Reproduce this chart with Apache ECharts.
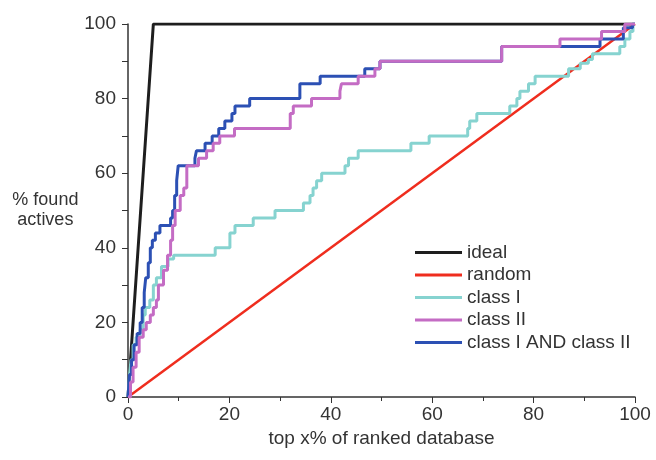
<!DOCTYPE html>
<html>
<head>
<meta charset="utf-8">
<script src="https://cdn.jsdelivr.net/npm/echarts@6/dist/echarts.min.js"></script>
<style>
  html, body { margin: 0; padding: 0; background: #fff; }
  #chart { width: 656px; height: 460px; }
</style>
</head>
<body>
<div id="chart"></div>
<script>
// 数据: [x, y] 每一步跳变的位置
var seriesNames = ['ideal', 'random', 'class I', 'class II', 'class I AND class II'];
var xTicks = [0, 20, 40, 60, 80, 100];
var yTicks = [0, 20, 40, 60, 80, 100];

var ideal = [[0, 0], [5, 100], [100, 100]];
var random = [[0, 0], [100, 100]];

var classI = [[0,0],[0.3,6],[0.6,10],[1,14],[1.6,16],[2.4,18],[3,22],[3.4,24],[4.3,26],[5,30],[5.6,32],
  [6.6,35],[7.9,37],[9,38],[17.2,40],[20.1,44],[21.1,46],[24.7,48],[29,50],[34.6,52],[35.9,54],
  [36.5,56],[37.2,58],[38.2,60],[42.8,62],[43.5,64],[45.4,66],[55.8,68],[59.4,70],[67,72],[67.4,74],
  [68.8,76],[75.3,78],[76.7,80],[77.3,82],[79,84],[80.3,86],[86.9,88],[89.2,89.5],[90.8,90.5],
  [91.6,92],[97,94],[98,96],[99,98],[99.6,100],[100,100]];

var classII = [[0,0],[0.5,4],[1,8],[1.6,12],[2.2,16],[3,18],[3.6,20],[4.4,22],[5,24],[5.6,26],[6,30],
  [7,34],[7.8,38],[8.4,42],[8.8,46],[9.3,50],[10.3,54],[11,56],[11.6,62],[13.9,64],[15.5,66],[16.8,68],
  [18.1,70],[21,72],[32,76],[32.6,78],[36.2,80],[41.8,82],[42.1,84],[45.4,86],[48.7,88],[49.7,90],
  [73.7,94],[85.2,96],[93.4,98],[98,100],[100,100]];

var classBoth = [[0,0],[0.3,6],[0.7,10],[1.2,14],[1.8,17],[2.4,20],[2.8,24],[3.2,28],[3.5,32],[4,36],
  [4.4,40],[4.8,42],[5.4,44],[6.3,46],[8.4,48],[8.8,50],[9.2,54],[9.6,58],[9.9,62],[13.2,64],[13.5,66],
  [15.2,68],[16.6,70],[17.9,72],[19.1,74],[20.5,76],[21.1,78],[24,80],[33.9,84],[37.9,86],[46.7,88],
  [49.7,90],[73.7,94],[93.1,96],[97.7,99],[99.5,100],[100,100]];

var colors = ['#1e1e1e', '#ef2d1e', '#86d3d0', '#c46cc4', '#2c50b4'];
var font = 'Liberation Sans, Arial, sans-serif';

function line(name, data, color, width, step){
    return {
        name: name,
        type: 'line',
        data: data,
        step: step ? 'end' : false,
        showSymbol: false,
        symbol: 'none',
        animation: false,
        lineStyle: { color: color, width: width },
        itemStyle: { color: color }
    };
}

var myChart = echarts.init(document.getElementById('chart'));
myChart.setOption({
    animation: false,
    grid: { left: 128, right: 21, top: 24, bottom: 63 },
    legend: {
        orient: 'vertical',
        left: 410,
        top: 238,
        icon: 'rect',
        itemWidth: 47,
        itemHeight: 3,
        itemGap: 3.5,
        data: seriesNames,
        textStyle: { fontFamily: font, fontSize: 19, color: '#333' }
    },
    xAxis: {
        type: 'value',
        min: 0, max: 100, interval: 20,
        name: 'top x% of ranked database',
        nameLocation: 'middle',
        nameGap: 29,
        nameTextStyle: { fontFamily: font, fontSize: 19, color: '#333' },
        axisLine: { lineStyle: { color: '#333', width: 1.5 } },
        axisTick: { length: 6, lineStyle: { color: '#333' } },
        minorTick: { show: true, splitNumber: 2, length: 4, lineStyle: { color: '#333' } },
        splitLine: { show: false },
        axisLabel: {
            fontFamily: font, fontSize: 19, color: '#333', margin: 8,
            formatter: function(v){ return xTicks.indexOf(v) >= 0 ? v : ''; }
        }
    },
    yAxis: {
        type: 'value',
        min: 0, max: 100, interval: 20,
        name: '% found\nactives',
        nameLocation: 'middle',
        nameRotate: 0,
        nameGap: 82,
        nameTextStyle: { fontFamily: font, fontSize: 18, color: '#333', align: 'center', lineHeight: 20 },
        axisLine: { show: true, lineStyle: { color: '#333', width: 1.5 } },
        axisTick: { show: true, length: 6, lineStyle: { color: '#333' } },
        minorTick: { show: true, splitNumber: 2, length: 6, lineStyle: { color: '#333' } },
        splitLine: { show: false },
        axisLabel: {
            fontFamily: font, fontSize: 19, color: '#333', margin: 12,
            formatter: function(v){ return yTicks.indexOf(v) >= 0 ? v : ''; }
        }
    },
    // class II 画在蓝线上面
    series: [
        line('ideal', ideal, colors[0], 3, false),
        line('random', random, colors[1], 2.5, false),
        line('class I', classI, colors[2], 3, true),
        line('class I AND class II', classBoth, colors[4], 3, true),
        line('class II', classII, colors[3], 3, true)
    ]
});
</script>
</body>
</html>
